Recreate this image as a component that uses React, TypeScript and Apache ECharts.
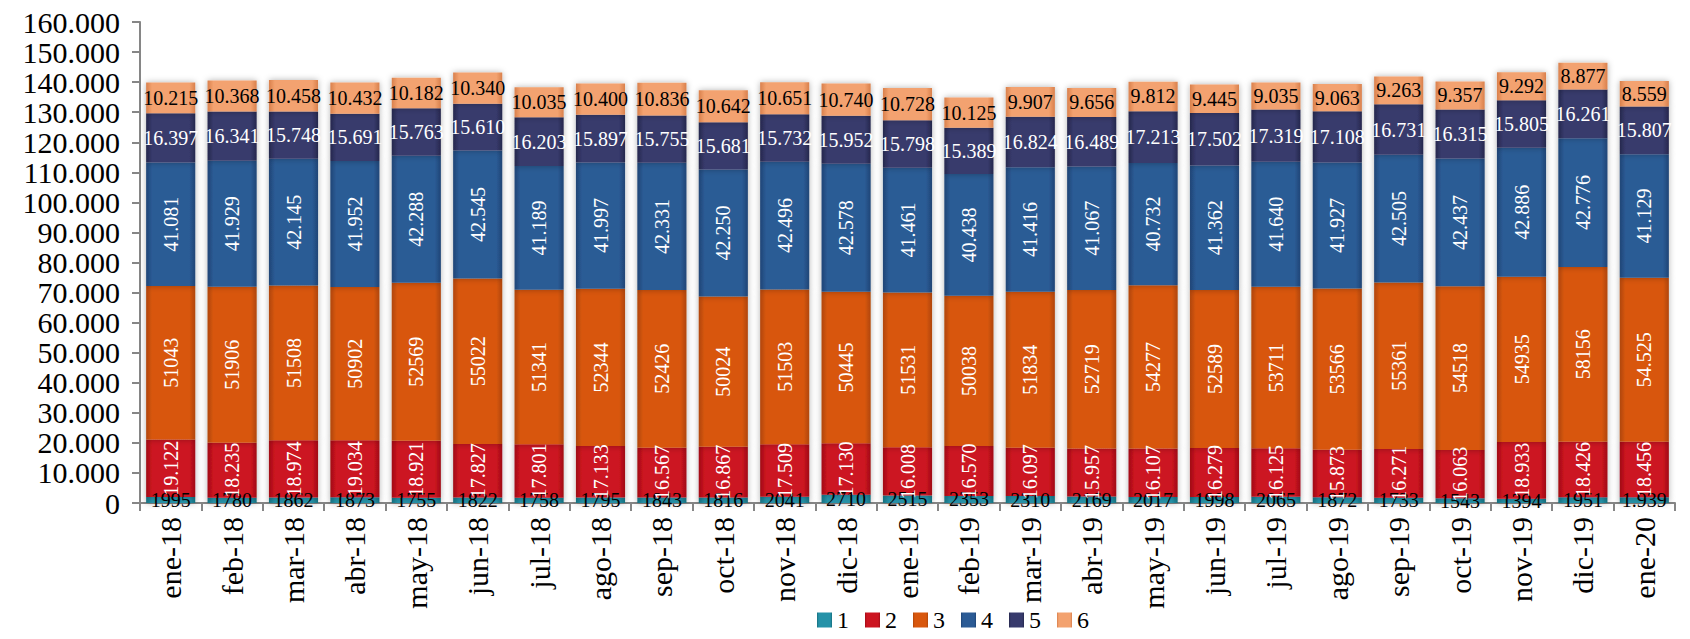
import React, { useEffect, useRef } from "react";
import * as echarts from "echarts";

const categories = [
  "ene-18", "feb-18", "mar-18", "abr-18", "may-18", "jun-18", "jul-18", "ago-18", "sep-18",
  "oct-18", "nov-18", "dic-18", "ene-19", "feb-19", "mar-19", "abr-19", "may-19", "jun-19",
  "jul-19", "ago-19", "sep-19", "oct-19", "nov-19", "dic-19", "ene-20",
];

const s1 = [1995, 1780, 1862, 1873, 1755, 1822, 1758, 1795, 1843, 1816, 2041, 2710, 2515, 2353, 2310, 2169, 2017, 1998, 2065, 1872, 1733, 1543, 1394, 1951, 1939];
const s2 = [19122, 18235, 18974, 19034, 18921, 17827, 17801, 17133, 16567, 16867, 17509, 17130, 16008, 16570, 16097, 15957, 16107, 16279, 16125, 15873, 16271, 16063, 18933, 18426, 18456];
const s3 = [51043, 51906, 51508, 50902, 52569, 55022, 51341, 52344, 52426, 50024, 51503, 50445, 51531, 50038, 51834, 52719, 54277, 52589, 53711, 53566, 55361, 54518, 54935, 58156, 54525];
const s4 = [41081, 41929, 42145, 41952, 42288, 42545, 41189, 41997, 42331, 42250, 42496, 42578, 41461, 40438, 41416, 41067, 40732, 41362, 41640, 41927, 42505, 42437, 42886, 42776, 41129];
const s5 = [16397, 16341, 15748, 15691, 15763, 15610, 16203, 15897, 15755, 15681, 15732, 15952, 15798, 15389, 16824, 16489, 17213, 17502, 17319, 17108, 16731, 16315, 15805, 16261, 15807];
const s6 = [10215, 10368, 10458, 10432, 10182, 10340, 10035, 10400, 10836, 10642, 10651, 10740, 10728, 10125, 9907, 9656, 9812, 9445, 9035, 9063, 9263, 9357, 9292, 8877, 8559];

const seriesNames = ["1", "2", "3", "4", "5", "6"];
const yTicks = { min: 0, max: 160000, interval: 10000 };

const FONT = "'Liberation Serif', serif";

const dotted = (v: number) =>
  v >= 1000 ? Math.floor(v / 1000) + "." + String(v % 1000).padStart(3, "0") : String(v);

const grad = (edge: string, mid: string) =>
  new echarts.graphic.LinearGradient(0, 0, 1, 0, [
    { offset: 0, color: edge },
    { offset: 0.12, color: mid },
    { offset: 0.88, color: mid },
    { offset: 1, color: edge },
  ]);

export default function App() {
  const ref = useRef<HTMLDivElement>(null);
  useEffect(() => {
    if (!ref.current) return;
    const chart = echarts.init(ref.current, null, { renderer: "svg" });

    const styles = [
      { edge: "#17707f", mid: "#2592a8" },
      { edge: "#a00c16", mid: "#cc1420" },
      { edge: "#b04608", mid: "#d8570d" },
      { edge: "#1f4576", mid: "#2b5b95" },
      { edge: "#26284d", mid: "#373a6c" },
      { edge: "#d9804c", mid: "#f3a26f" },
    ];
    const datas = [s1, s2, s3, s4, s5, s6];
    const labelCfg = [
      { rotate: 0, color: "#000", plainExceptLast: true },
      { rotate: 90, color: "#fff", plainExceptLast: false },
      { rotate: 90, color: "#fff", plainExceptLast: true },
      { rotate: 90, color: "#fff", plainExceptLast: false },
      { rotate: 0, color: "#fff", plainExceptLast: false },
      { rotate: 0, color: "#000", plainExceptLast: false },
    ];

    const series = datas.map((d, i) => ({
      name: seriesNames[i],
      type: "bar",
      stack: "total",
      data: d,
      barWidth: "80%",
      itemStyle: {
        color: grad(styles[i].edge, styles[i].mid),
        shadowBlur: 6,
        shadowColor: "rgba(0,0,0,0.3)",
      },
      label: {
        show: true,
        position: "inside",
        rotate: labelCfg[i].rotate,
        color: labelCfg[i].color,
        fontFamily: FONT,
        fontSize: 20,
        formatter: (p: any) =>
          labelCfg[i].plainExceptLast && p.dataIndex !== categories.length - 1
            ? String(p.value)
            : dotted(p.value),
      },
    }));

    chart.setOption({
      animation: false,
      textStyle: { fontFamily: FONT },
      grid: { left: 140, right: 15, top: 22, bottom: 136, containLabel: false },
      legend: {
        data: seriesNames,
        bottom: 2,
        left: 812,
        icon: "rect",
        itemWidth: 15,
        itemHeight: 15,
        itemGap: 16,
        textStyle: { fontSize: 24, color: "#000", fontFamily: FONT },
      },
      xAxis: {
        type: "category",
        data: categories,
        axisLine: { lineStyle: { color: "#868686", width: 2 } },
        axisTick: { show: true, length: 8, lineStyle: { color: "#868686", width: 2 } },
        axisLabel: {
          rotate: 90,
          margin: 14,
          color: "#000",
          fontSize: 30,
          fontFamily: FONT,
          interval: 0,
        },
      },
      yAxis: {
        type: "value",
        min: yTicks.min,
        max: yTicks.max,
        interval: yTicks.interval,
        axisLine: { show: true, lineStyle: { color: "#868686", width: 2 } },
        axisTick: { show: true, length: 8, lineStyle: { color: "#868686", width: 2 } },
        splitLine: { show: false },
        axisLabel: {
          margin: 20,
          color: "#000",
          fontSize: 30,
          fontFamily: FONT,
          formatter: (v: number) => dotted(v),
        },
      },
      series,
    });
    return () => chart.dispose();
  }, []);
  return (
    <div
      ref={ref}
      style={{ position: "absolute", left: 0, top: 0, width: 1690, height: 639 }}
    />
  );
}
